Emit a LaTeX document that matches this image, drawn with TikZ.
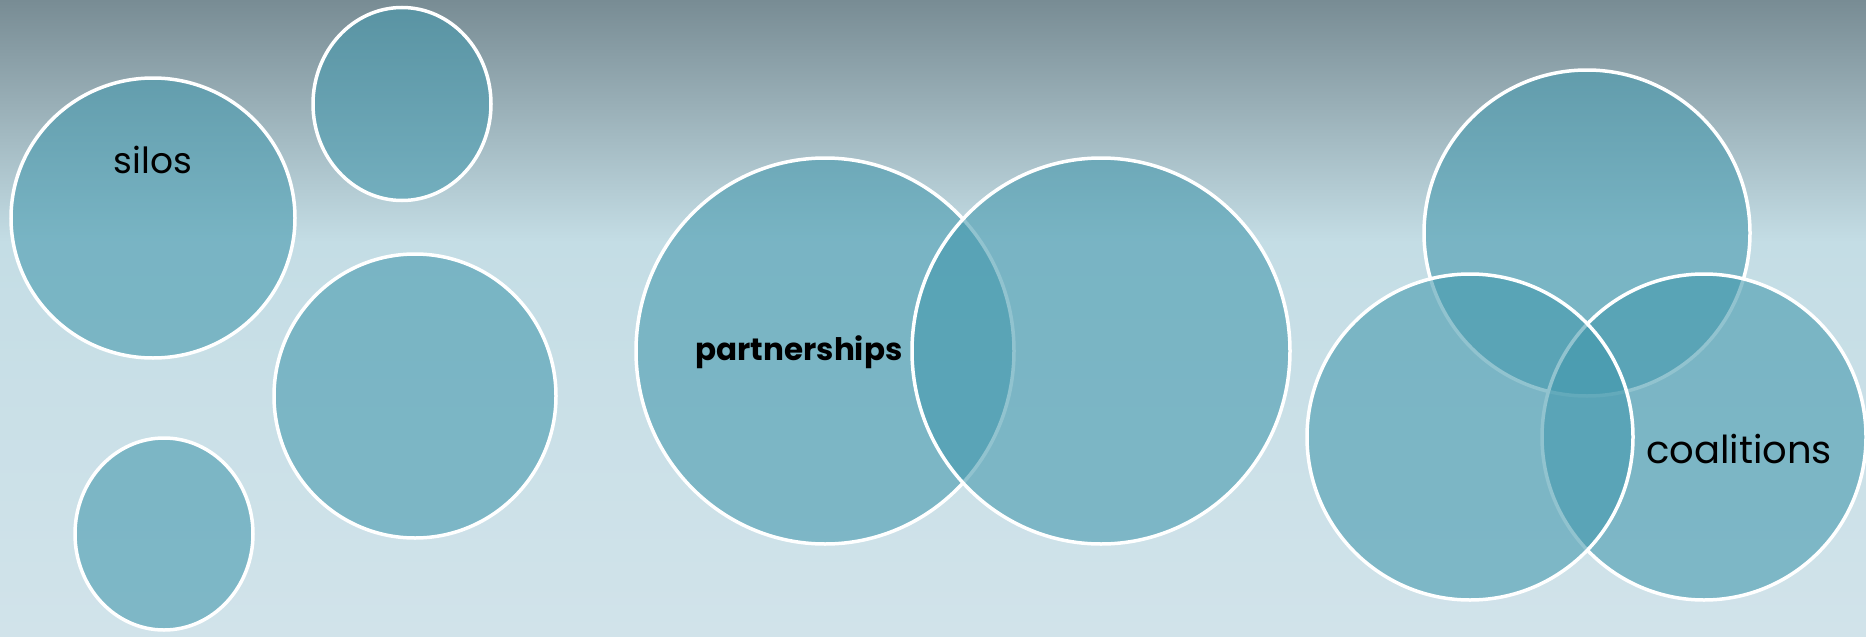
\documentclass[tikz,border=0pt]{standalone}
\usepackage{fontspec}
\setmainfont{Poppins}
\usetikzlibrary{shapes.geometric}
\definecolor{bgtop}{RGB}{120,140,148}
\definecolor{bgmid}{RGB}{196,221,229}
\definecolor{bgbot}{RGB}{209,227,234}
\definecolor{bubblefill}{RGB}{67,152,173}
\pgfdeclareverticalshading{bgshade}{100bp}{color(0bp)=(bgbot); color(25bp)=(bgbot); color(56bp)=(bgmid); color(75bp)=(bgtop); color(100bp)=(bgtop)}
\tikzset{
  bubble/.style={ellipse, draw=white, line width=3.5pt, fill=bubblefill, fill opacity=0.58, inner sep=0pt, outer sep=0pt},
  lbl/.style={text=black, inner sep=0pt}
}
\begin{document}
\begin{tikzpicture}[x=1pt,y=-1pt]
\useasboundingbox (0,0) rectangle (1866,637);
\shade[shading=bgshade] (0,0) rectangle (1866,637);
% silos group
\node[bubble, minimum width=284pt, minimum height=280pt] (s1) at (153,218) {};
\node[bubble, minimum width=178pt, minimum height=193pt] (s2) at (402,104) {};
\node[bubble, minimum width=282pt, minimum height=284pt] (s3) at (415,396) {};
\node[bubble, minimum width=178pt, minimum height=192pt] (s4) at (164,534) {};
% partnerships
\node[bubble, minimum width=378pt, minimum height=386pt] (p1) at (825,351) {};
\node[bubble, minimum width=378pt, minimum height=386pt] (p2) at (1101,351) {};
% coalitions
\node[bubble, minimum width=326pt, minimum height=326pt] (c1) at (1587,233) {};
\node[bubble, minimum width=324pt, minimum height=326pt] (c2) at (1704,437) {};
\node[bubble, minimum width=326pt, minimum height=326pt] (c3) at (1470,437) {};
% labels
\node[lbl, font=\fontsize{36}{42}\selectfont] (ts) at (153,160) {silos};
\node[lbl, font=\fontsize{31}{37}\selectfont\bfseries] (tp) at (799,352) {partnerships};
\node[lbl, font=\fontsize{38.5}{44}\selectfont] (tc) at (1739,449) {coalitions};
\end{tikzpicture}
\end{document}
